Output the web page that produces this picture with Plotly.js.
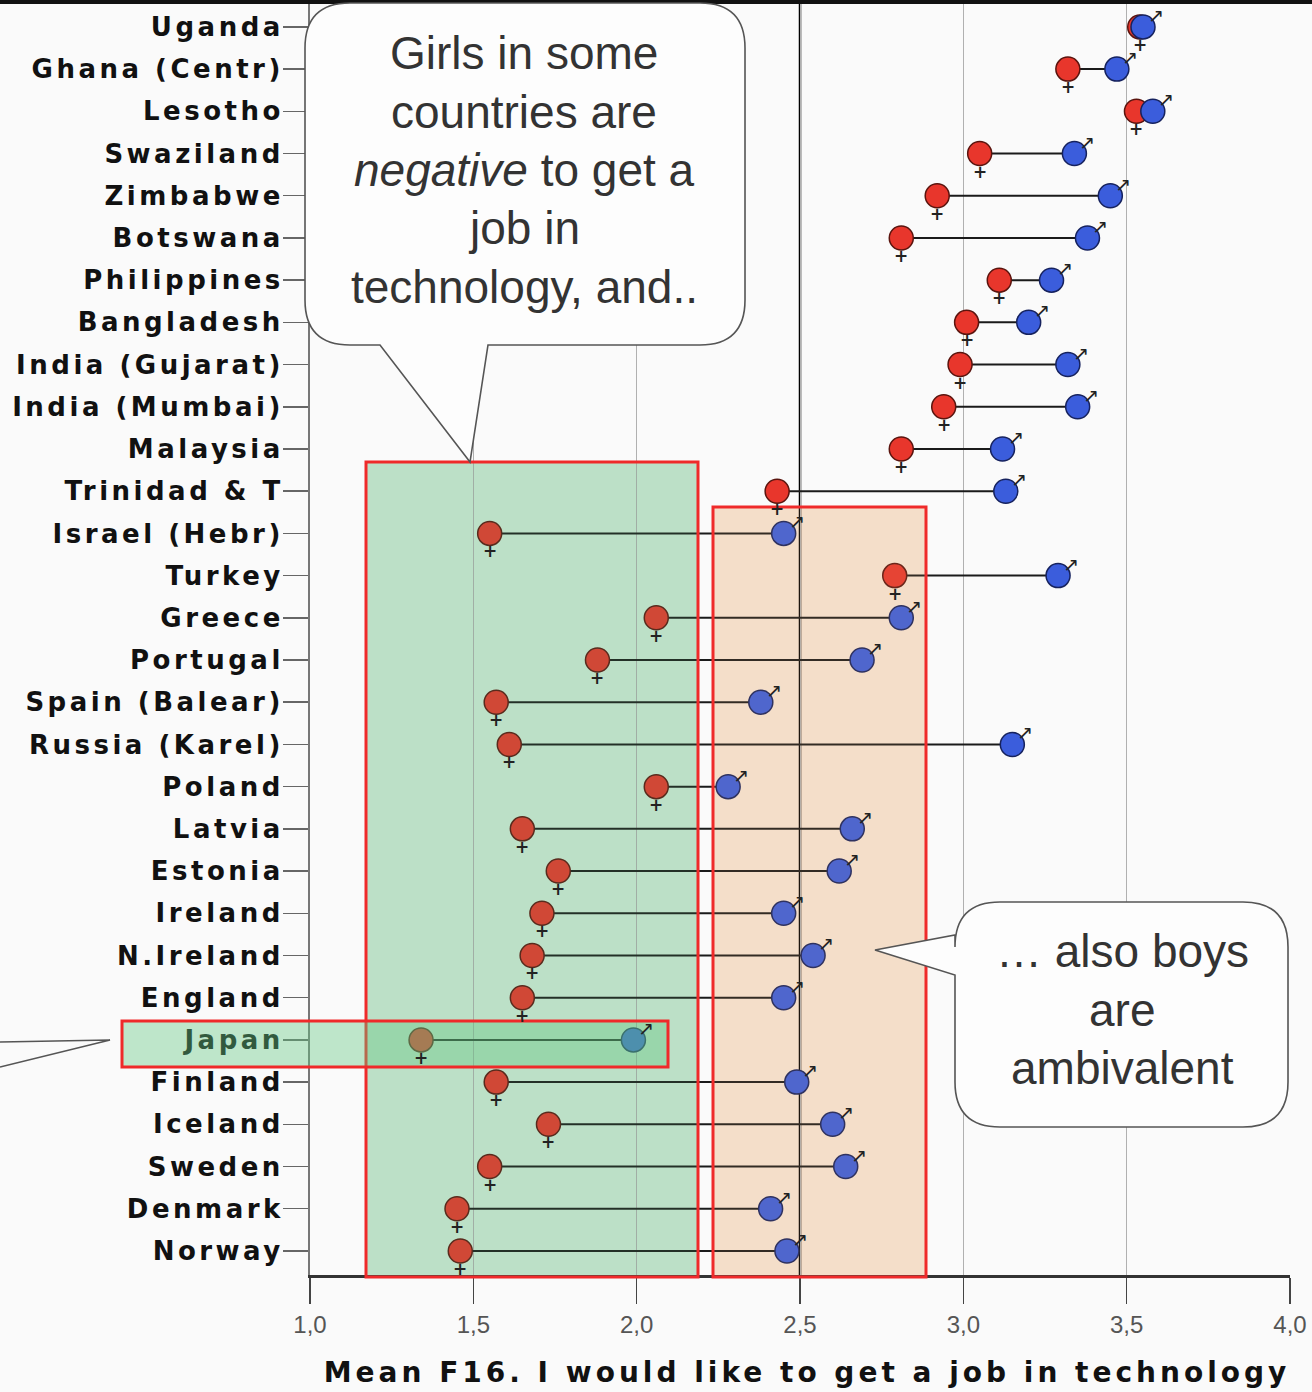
<!DOCTYPE html>
<html>
<head>
<meta charset="utf-8">
<script src="https://cdn.plot.ly/plotly-3.0.1.min.js"></script>
<style>
  html, body { margin: 0; padding: 0; background: #fafafa; }
  #chart { width: 1312px; height: 1392px; }
  .ytick text { letter-spacing: 3.5px; }
  .g-xtitle text { letter-spacing: 4px; }
  .g-xtitle { transform: translateX(7px); }
</style>
</head>
<body>
<div id="chart"></div>
<script>
const countries = ["Uganda","Ghana (Centr)","Lesotho","Swaziland","Zimbabwe","Botswana","Philippines","Bangladesh","India (Gujarat)","India (Mumbai)","Malaysia","Trinidad & T","Israel (Hebr)","Turkey","Greece","Portugal","Spain (Balear)","Russia (Karel)","Poland","Latvia","Estonia","Ireland","N.Ireland","England","Japan","Finland","Iceland","Sweden","Denmark","Norway"];
const girls = [3.54,3.32,3.53,3.05,2.92,2.81,3.11,3.01,2.99,2.94,2.81,2.43,1.55,2.79,2.06,1.88,1.57,1.61,2.06,1.65,1.76,1.71,1.68,1.65,1.34,1.57,1.73,1.55,1.45,1.46];
const boys  = [3.55,3.47,3.58,3.34,3.45,3.38,3.27,3.20,3.32,3.35,3.12,3.13,2.45,3.29,2.81,2.69,2.38,3.15,2.28,2.66,2.62,2.45,2.54,2.45,1.99,2.49,2.60,2.64,2.41,2.46];
const xTicks = [1.0,1.5,2.0,2.5,3.0,3.5,4.0];
const refValue = 2.5;
const xTitle = "Mean F16. I would like to get a job in technology";
const bubble1Lines = ["Girls in some","countries are","<i>negative</i> to get a","job in","technology, and.."];
const bubble2Lines = ["\u2026 also boys","are","ambivalent"];

// pixel -> paper helpers for decorative callouts
const L = 310, T = 2, W = 980, H = 1273;
const px = x => (x - L) / W;
const py = y => 1 - (y - T) / H;
function path(cmds) {
  return cmds.map(c => {
    if (c[0] === 'Z') return 'Z';
    const pts = [];
    for (let i = 1; i < c.length; i += 2) pts.push(px(c[i]).toFixed(5) + ',' + py(c[i+1]).toFixed(5));
    return c[0] + pts.join(' ');
  }).join(' ');
}

const lineX = [], lineY = [];
countries.forEach((c, i) => { lineX.push(girls[i], boys[i], null); lineY.push(c, c, null); });

const traces = [
  { type: 'scatter', mode: 'lines', x: lineX, y: lineY, line: { color: '#1a1a1a', width: 2 }, hoverinfo: 'skip', showlegend: false },
  { type: 'scatter', mode: 'markers', x: girls, y: countries,
    marker: { size: 24, color: '#e8362c', line: { color: '#5a140e', width: 1.5 } }, showlegend: false },
  { type: 'scatter', mode: 'markers', x: boys, y: countries,
    marker: { size: 24, color: '#3b5ddc', line: { color: '#16225e', width: 1.5 } }, showlegend: false }
];

const redEdge = { color: '#ef2a2a', width: 3 };
const noEdge = { width: 0 };
const bubbleLine = { color: '#555', width: 1.6 };
const greenBox = { x0: px(366), x1: px(698), y0: py(462), y1: py(1277) };
const orangeBox = { x0: px(713), x1: px(926), y0: py(507), y1: py(1277) };
const japanBox = { x0: px(122), x1: px(668), y0: py(1021), y1: py(1067) };
const shapes = [
  Object.assign({ type: 'rect', xref: 'paper', yref: 'paper', fillcolor: 'rgba(120,205,145,0.32)', line: noEdge, layer: 'below' }, greenBox),
  Object.assign({ type: 'rect', xref: 'paper', yref: 'paper', fillcolor: 'rgba(250,190,135,0.30)', line: noEdge, layer: 'below' }, orangeBox),
  { type: 'line', xref: 'x', yref: 'paper', x0: refValue, x1: refValue, y0: 0, y1: 1, line: { color: '#000', width: 2.5 }, layer: 'between' },
  { type: 'line', xref: 'paper', yref: 'paper', x0: px(0), x1: px(1312), y0: py(2), y1: py(2), line: { color: '#111', width: 4 }, layer: 'above' },
  Object.assign({ type: 'rect', xref: 'paper', yref: 'paper', fillcolor: 'rgba(90,170,110,0.16)', line: redEdge, layer: 'above' }, greenBox),
  Object.assign({ type: 'rect', xref: 'paper', yref: 'paper', fillcolor: 'rgba(220,160,110,0.13)', line: redEdge, layer: 'above' }, orangeBox),
  Object.assign({ type: 'rect', xref: 'paper', yref: 'paper', fillcolor: 'rgba(100,200,130,0.40)', line: redEdge, layer: 'above' }, japanBox),
  { type: 'path', xref: 'paper', yref: 'paper', layer: 'above', fillcolor: '#fdfdfd', line: bubbleLine,
    path: path([['M',350,3],['L',700,3],['Q',745,3,745,48],['L',745,300],['Q',745,345,700,345],['L',488,345],['L',470,462],['L',380,345],['L',350,345],['Q',305,345,305,300],['L',305,48],['Q',305,3,350,3],['Z']]) },
  { type: 'path', xref: 'paper', yref: 'paper', layer: 'above', fillcolor: '#fdfdfd', line: bubbleLine,
    path: path([['M',1000,902],['L',1243,902],['Q',1288,902,1288,947],['L',1288,1082],['Q',1288,1127,1243,1127],['L',1000,1127],['Q',955,1127,955,1082],['L',955,975],['L',875,950],['L',955,935],['L',955,947],['Q',955,902,1000,902],['Z']]) },
  { type: 'path', xref: 'paper', yref: 'paper', layer: 'above', line: bubbleLine,
    path: path([['M',0,1042],['L',110,1040],['L',0,1067]]) }
];

const annotations = [];
// gender glyph parts attached to each marker via the axes
countries.forEach((c, i) => {
  annotations.push({ x: girls[i], y: c, xref: 'x', yref: 'y', text: '+', showarrow: false,
    yshift: -18, font: { family: 'DejaVu Sans', size: 17, color: '#222', weight: 700 } });
  annotations.push({ x: boys[i], y: c, xref: 'x', yref: 'y', text: '\u2197', showarrow: false,
    xshift: 13, yshift: 12, font: { family: 'DejaVu Sans', size: 19, color: '#222' } });
});

const annFont = { family: 'Liberation Sans, Arial, sans-serif', size: 46, color: '#333' };
const b1y = [53, 112, 170, 228, 287];
bubble1Lines.forEach((t, i) => annotations.push({ xref: 'paper', yref: 'paper', x: px(524), y: py(b1y[i]), text: t, showarrow: false, xanchor: 'center', yanchor: 'middle', font: annFont }));
const b2y = [951, 1010, 1068];
bubble2Lines.forEach((t, i) => annotations.push({ xref: 'paper', yref: 'paper', x: px(1122), y: py(b2y[i]), text: t, showarrow: false, xanchor: 'center', yanchor: 'middle', font: annFont }));

const layout = {
  width: 1312, height: 1392,
  margin: { l: 310, r: 22, t: 2, b: 117 },
  paper_bgcolor: '#fafafa', plot_bgcolor: '#fafafa',
  separators: ',.',
  showlegend: false,
  xaxis: {
    range: [1, 4], tickvals: xTicks, tickformat: '.1f',
    showgrid: true, gridcolor: '#b0b0b0', gridwidth: 1, zeroline: false,
    showline: true, linecolor: '#333', linewidth: 3,
    ticks: 'outside', ticklen: 26, tickwidth: 1.5, tickcolor: '#444',
    tickfont: { family: 'Liberation Sans Narrow, Liberation Sans, sans-serif', size: 24, color: '#555' },
    title: { text: xTitle, standoff: 26, font: { family: 'DejaVu Sans', size: 28, color: '#111', weight: 700 } },
    fixedrange: true
  },
  yaxis: {
    type: 'category', categoryorder: 'array', categoryarray: countries,
    range: [29.57, -0.59],
    showgrid: false, zeroline: false,
    showline: true, linecolor: '#777', linewidth: 2,
    ticks: 'outside', ticklen: 25, tickwidth: 1.5, tickcolor: '#666',
    ticklabelstandoff: -6,
    tickfont: { family: 'DejaVu Sans', size: 26, color: '#111', weight: 700 },
    fixedrange: true
  },
  shapes: shapes,
  annotations: annotations
};

Plotly.newPlot('chart', traces, layout, { displayModeBar: false, staticPlot: true });
</script>
</body>
</html>
